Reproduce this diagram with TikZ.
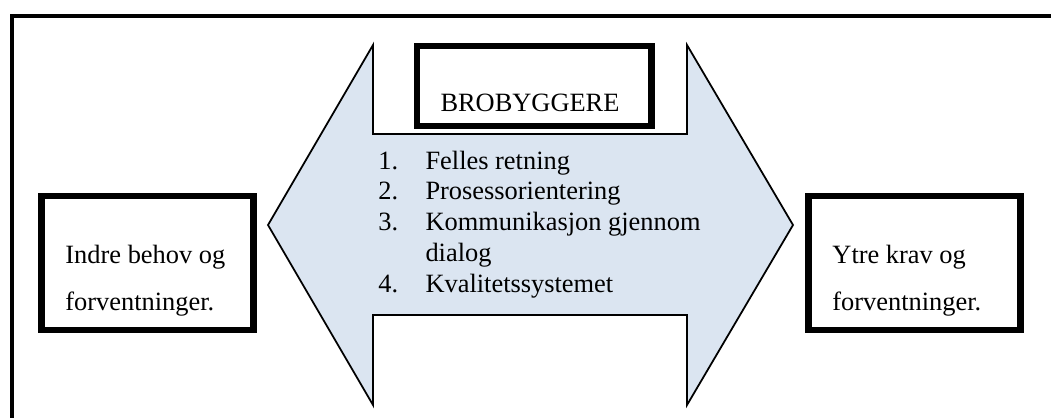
\documentclass[tikz,border=0pt]{standalone}
\usepackage{fontspec}
\setmainfont{Liberation Serif}
\usetikzlibrary{positioning}

\definecolor{bridgeblue}{HTML}{DBE5F1}

\begin{document}
\begin{tikzpicture}[x=0.4545pt,y=-0.4545pt,
every node/.style={font=\fontsize{12}{14}\selectfont,inner sep=0pt},
sidebox/.style={draw=black,line width=3pt,fill=white,minimum width=96.4pt,minimum height=61pt},
topbox/.style={draw=black,line width=3pt,fill=white,minimum width=106.6pt,minimum height=36.4pt},
boxtext/.style={anchor=base west,font=\fontsize{12}{21.4}\selectfont}]
\clip (0,0) rectangle (1051,417);

% frame, only top and left edge on the page
\draw[line width=1.8pt] (12,16) rectangle (1080,450);

% the double arrow with notches top and bottom
\draw[fill=bridgeblue,line width=0.8pt,line join=miter]
  (268,225) -- (373,45) -- (373,134) -- (687,134) -- (687,45)
  -- (793,225) -- (687,405) -- (687,315) -- (373,315) -- (373,405) -- cycle;

\node[topbox] (bro) at (534.25,86) {};
\node[sidebox] (inner) at (147.5,263) {};
\node[sidebox] (outer) at (914.25,263) {};

\node[anchor=base] (brotext) at (530,111) {BROBYGGERE};

\node[anchor=base west] (steps) at (378,169) {\begin{tabular}[t]{@{}p{21.4pt}@{}l@{}}
1. & Felles retning\\
2. & Prosessorientering\\
3. & Kommunikasjon gjennom\\
   & dialog\\
4. & Kvalitetssystemet
\end{tabular}};

\node[boxtext] (innertext) at (65,263) {\begin{tabular}[t]{@{}l@{}}
Indre behov og\\forventninger.\end{tabular}};
\node[boxtext] (outertext) at (832,263) {\begin{tabular}[t]{@{}l@{}}
Ytre krav og\\forventninger.\end{tabular}};

\end{tikzpicture}
\end{document}
